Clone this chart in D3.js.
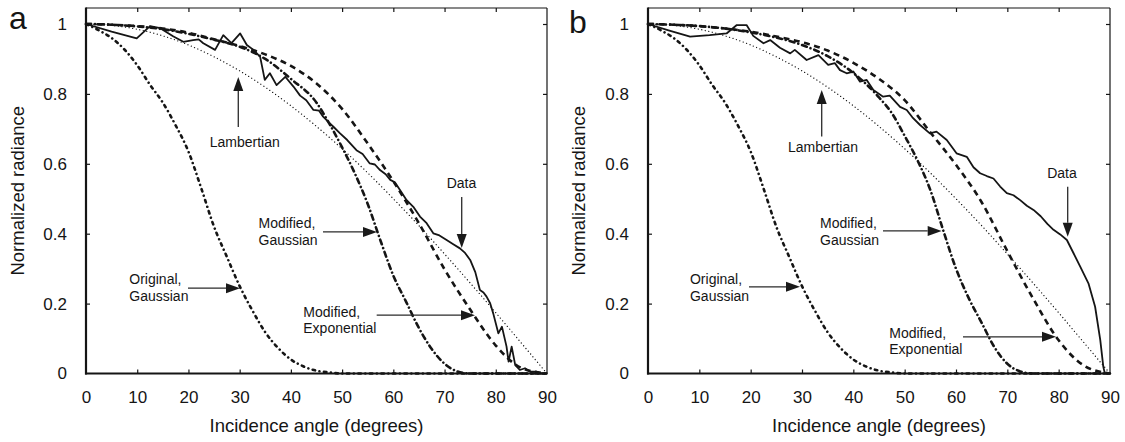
<!DOCTYPE html>
<html><head><meta charset="utf-8">
<script src="https://cdn.jsdelivr.net/npm/d3@7"></script>
<style>
body{margin:0;background:#fff}
svg{display:block}
text{font-family:"Liberation Sans",Arial,Helvetica,sans-serif;fill:#151515}
</style>
</head><body>
<svg id="chart" width="1125" height="442"></svg>
<script>
// ---------- data ----------
const xTicks = [0,10,20,30,40,50,60,70,80,90];
const yTicks = [0,0.2,0.4,0.6,0.8,1];
const yTickLabels = ["0","0.2","0.4","0.6","0.8","1"];
const panelLetters = ["a","b"];
const xTitle = "Incidence angle (degrees)";
const yTitle = "Normalized radiance";

// Lambertian (both panels)
const lambertian = [[0,1],[5,0.996],[10,0.985],[15,0.966],[20,0.94],[25,0.906],[30,0.866],[35,0.819],[40,0.766],[45,0.707],[50,0.643],[55,0.574],[60,0.5],[65,0.423],[70,0.342],[75,0.259],[80,0.174],[85,0.087],[90,0]];
// Original Gaussian (both panels)
const originalGaussian = [[0,1],[2.5,0.982],[5,0.96],[7.5,0.927],[10,0.882],[12.5,0.826],[15,0.775],[17.5,0.71],[20,0.635],[22.5,0.53],[25,0.42],[27.5,0.334],[30,0.25],[32.5,0.18],[35,0.118],[37.5,0.073],[40,0.04],[42.5,0.02],[45,0.008],[47.5,0.003],[50,0],[60,0],[70,0],[80,0],[90,0]];
// Panel a
const modGaussA = [[0,1],[5,0.998],[10,0.993],[15,0.985],[20,0.972],[25,0.955],[30,0.935],[35,0.9],[40,0.843],[45,0.775],[47.5,0.715],[50,0.647],[52.5,0.572],[55,0.485],[57.5,0.38],[60,0.28],[62.5,0.205],[65,0.13],[67.5,0.07],[70,0.028],[72.5,0.006],[75,0],[80,0],[85,0],[90,0]];
const modExpA = [[0,1],[5,0.998],[10,0.994],[15,0.987],[20,0.975],[25,0.956],[30,0.937],[35,0.913],[40,0.88],[45,0.83],[50,0.757],[55,0.658],[60,0.55],[65,0.43],[70,0.298],[75,0.183],[80,0.08],[85,0.016],[90,0]];
const dataA = [[0,1],[5,0.978],[9.9,0.959],[12.5,0.994],[14.5,0.988],[17,0.965],[19,0.949],[20.9,0.954],[22,0.956],[22.9,0.945],[25.2,0.926],[26.8,0.968],[28.4,0.945],[30.1,0.973],[31.4,0.94],[32.7,0.926],[34,0.906],[34.9,0.84],[35.9,0.859],[37.2,0.825],[38.9,0.849],[40.5,0.821],[41.8,0.795],[43,0.782],[44.4,0.754],[45.5,0.752],[46.3,0.735],[47.3,0.72],[48.3,0.706],[49.6,0.687],[51,0.668],[52.8,0.639],[54,0.628],[55.4,0.601],[56.4,0.598],[57.4,0.582],[58.5,0.57],[59.4,0.554],[60.3,0.547],[61.3,0.525],[62.6,0.496],[63.9,0.477],[65.2,0.449],[66.5,0.43],[67.8,0.401],[69,0.395],[70.4,0.382],[71.7,0.37],[73,0.358],[74,0.345],[75,0.325],[76,0.29],[76.9,0.239],[77.6,0.232],[78.2,0.22],[78.9,0.201],[79.5,0.172],[80.5,0.115],[81.2,0.134],[82.1,0.077],[82.5,0.034],[83.1,0.077],[83.8,0.024],[84.7,0.01],[85.7,0.015],[86.7,0.005],[88,0.005],[89,0],[90,0]];
// Panel b
const modGaussB = [[0,1],[5,0.998],[10,0.994],[15,0.987],[20,0.976],[25,0.961],[30,0.94],[35,0.908],[40,0.86],[45,0.79],[47.5,0.745],[50,0.68],[52.5,0.61],[55,0.525],[57.5,0.41],[60,0.3],[62.5,0.215],[65,0.145],[67.5,0.075],[70,0.028],[72.5,0.006],[75,0],[80,0],[85,0],[90,0]];
const modExpB = [[0,1],[5,0.998],[10,0.994],[15,0.987],[20,0.978],[25,0.964],[30,0.948],[35,0.924],[40,0.889],[45,0.843],[50,0.782],[55,0.69],[60,0.597],[65,0.49],[70,0.35],[75,0.215],[80,0.095],[85,0.022],[90,0]];
const dataB = [[0,1],[4,0.982],[8.2,0.964],[12,0.968],[15.3,0.973],[17.3,0.997],[19.2,0.997],[20.5,0.966],[22.5,0.945],[23.8,0.954],[25.7,0.932],[27.7,0.916],[28.6,0.926],[30.9,0.897],[33.2,0.911],[35.1,0.883],[36.4,0.888],[37.4,0.868],[38.7,0.859],[40,0.864],[41.3,0.835],[42.6,0.84],[43.9,0.811],[45.8,0.792],[47.1,0.795],[49.1,0.763],[50.4,0.754],[51.5,0.733],[53,0.711],[54.9,0.687],[56.2,0.692],[58.2,0.668],[60.1,0.63],[62.1,0.62],[63.4,0.59],[64.7,0.573],[66,0.565],[67.3,0.558],[68.6,0.535],[69.9,0.516],[71.2,0.51],[72.5,0.496],[73.8,0.48],[75.1,0.468],[76.5,0.45],[77.8,0.428],[79,0.411],[80.3,0.398],[81.6,0.382],[82.9,0.344],[84.2,0.306],[85.8,0.258],[87.1,0.191],[88.1,0.096],[88.7,0.019],[89,0]];

// annotation labels (text, arrow tail, arrow tip) in data units
const annotA = [
  {lines:["Lambertian"], tx:31.0, ty:0.649, anchor:"middle", tail:[29.73,0.705], tip:[29.73,0.848]},
  {lines:["Data"], tx:73.3, ty:0.53, anchor:"middle", tail:[73.35,0.505], tip:[73.35,0.359]},
  {lines:["Modified,","Gaussian"], tx:33.68, ty:0.416, anchor:"start", tail:[46.27,0.405], tip:[56.81,0.405]},
  {lines:["Original,","Gaussian"], tx:8.45, ty:0.256, anchor:"start", tail:[19.91,0.244], tip:[30.07,0.244]},
  {lines:["Modified,","Exponential"], tx:42.42, ty:0.1625, anchor:"start", tail:[56.75,0.167], tip:[75.94,0.167]}
];
const annotB = [
  {lines:["Lambertian"], tx:34.1, ty:0.635, anchor:"middle", tail:[33.84,0.678], tip:[33.84,0.811]},
  {lines:["Data"], tx:80.65, ty:0.5585, anchor:"middle", tail:[81.76,0.534], tip:[81.76,0.391]},
  {lines:["Modified,","Gaussian"], tx:33.51, ty:0.416, anchor:"start", tail:[45.78,0.408], tip:[57.21,0.408]},
  {lines:["Original,","Gaussian"], tx:8.18, ty:0.256, anchor:"start", tail:[19.68,0.248], tip:[29.61,0.248]},
  {lines:["Modified,","Exponential"], tx:47.0, ty:0.1016, anchor:"start", tail:[61.36,0.105], tip:[79.48,0.105]}
];

// ---------- drawing ----------
const svg = d3.select("#chart");
const ink = "#151515";
const panels = [
  {letter:panelLetters[0], left:86, right:547, letterX:9, letterY:29, titleX:23.5,
   series:{lamb:lambertian, orig:originalGaussian, mg:modGaussA, me:modExpA, data:dataA}, annot:annotA},
  {letter:panelLetters[1], left:648, right:1110, letterX:569, letterY:33, titleX:585,
   series:{lamb:lambertian, orig:originalGaussian, mg:modGaussB, me:modExpB, data:dataB}, annot:annotB}
];
const plotTop = 8, plotBottom = 373.5;

panels.forEach(p => {
  const x = d3.scaleLinear().domain([0,90]).range([p.left, p.right]);
  const y = d3.scaleLinear().domain([0,1]).range([plotBottom, 24]);
  const g = svg.append("g");

  const ax = g.append("g").attr("transform",`translate(0,${plotBottom})`)
    .call(d3.axisBottom(x).tickValues(xTicks).tickSize(-4).tickPadding(17.5).tickFormat(d3.format("d")));
  const ay = g.append("g").attr("transform",`translate(${p.left},0)`)
    .call(d3.axisLeft(y).tickValues(yTicks).tickSize(-4).tickPadding(19).tickFormat((d,i)=>yTickLabels[i]));
  const at = g.append("g").attr("transform",`translate(0,${plotTop})`)
    .call(d3.axisTop(x).tickValues(xTicks.slice(1,-1)).tickSize(-4).tickFormat(""));
  const ar = g.append("g").attr("transform",`translate(${p.right},0)`)
    .call(d3.axisRight(y).tickValues(yTicks.slice(1)).tickSize(-4).tickFormat(""));
  [ax,ay,at,ar].forEach(a => {
    a.select(".domain").remove();
    a.selectAll(".tick line").attr("stroke",ink).attr("stroke-width",1.2);
    a.selectAll("text").attr("font-size",17).attr("fill",ink)
      .style("font-family",'"Liberation Sans",Arial,sans-serif');
  });
  ax.selectAll(".tick").filter(d => d===0 || d===90).select("line").remove();
  ay.selectAll(".tick").filter(d => d===0).select("line").remove();

  // frame
  g.append("line").attr("x1",p.left).attr("x2",p.right).attr("y1",plotTop).attr("y2",plotTop).attr("stroke",ink).attr("stroke-width",1.2);
  g.append("line").attr("x1",p.right).attr("x2",p.right).attr("y1",plotTop).attr("y2",plotBottom).attr("stroke",ink).attr("stroke-width",1.2);
  g.append("line").attr("x1",p.left).attr("x2",p.left).attr("y1",plotTop-0.6).attr("y2",plotBottom+1).attr("stroke",ink).attr("stroke-width",2.2);
  g.append("line").attr("x1",p.left-1).attr("x2",p.right+0.6).attr("y1",plotBottom).attr("y2",plotBottom).attr("stroke",ink).attr("stroke-width",2.2);

  // curves
  const smooth = d3.line().x(d=>x(d[0])).y(d=>y(d[1])).curve(d3.curveMonotoneX);
  const straight = d3.line().x(d=>x(d[0])).y(d=>y(d[1]));
  const s = p.series;
  g.append("path").attr("d",smooth(s.lamb)).attr("fill","none").attr("stroke",ink)
    .attr("stroke-width",1.3).attr("stroke-dasharray","0.01,3.6").attr("stroke-linecap","round");
  g.append("path").attr("d",smooth(s.orig)).attr("fill","none").attr("stroke",ink)
    .attr("stroke-width",2.6).attr("stroke-dasharray","2.5,4.5,0.01,4.5").attr("stroke-linecap","round");
  g.append("path").attr("d",smooth(s.mg)).attr("fill","none").attr("stroke",ink)
    .attr("stroke-width",2.6).attr("stroke-dasharray","5,4,0.01,4").attr("stroke-linecap","round");
  g.append("path").attr("d",smooth(s.me)).attr("fill","none").attr("stroke",ink)
    .attr("stroke-width",2.6).attr("stroke-dasharray","6,4.5").attr("stroke-linecap","butt");
  g.append("path").attr("d",straight(s.data)).attr("fill","none").attr("stroke",ink)
    .attr("stroke-width",1.8).attr("stroke-linejoin","round");

  // annotations
  p.annot.forEach(a => {
    const t = g.append("text").attr("x",x(a.tx)).attr("y",y(a.ty))
      .attr("text-anchor",a.anchor).attr("font-size",14).attr("fill","#2a2a2a");
    a.lines.forEach((ln,i) => t.append("tspan").attr("x",x(a.tx)).attr("dy", i===0?0:16.5).text(ln));
    const x1=x(a.tail[0]), y1=y(a.tail[1]), x2=x(a.tip[0]), y2=y(a.tip[1]);
    const len=Math.hypot(x2-x1,y2-y1), ux=(x2-x1)/len, uy=(y2-y1)/len;
    const hl=14, hw=5;
    const bx=x2-ux*hl, by=y2-uy*hl;
    g.append("line").attr("x1",x1).attr("y1",y1).attr("x2",bx).attr("y2",by)
      .attr("stroke","#2a2a2a").attr("stroke-width",1.3);
    g.append("path").attr("d",`M${x2},${y2}L${bx-uy*hw},${by+ux*hw}L${bx+uy*hw},${by-ux*hw}Z`)
      .attr("fill","#1a1a1a");
  });

  // titles
  g.append("text").attr("x",(p.left+p.right)/2).attr("y",431.5).attr("text-anchor","middle")
    .attr("font-size",18.5).text(xTitle);
  g.append("text").attr("transform",`translate(${p.titleX},${(plotTop+plotBottom)/2}) rotate(-90)`)
    .attr("text-anchor","middle").attr("font-size",18.5).text(yTitle);
  g.append("text").attr("x",p.letterX).attr("y",p.letterY).attr("font-size",32).text(p.letter);
});
</script>
</body></html>
